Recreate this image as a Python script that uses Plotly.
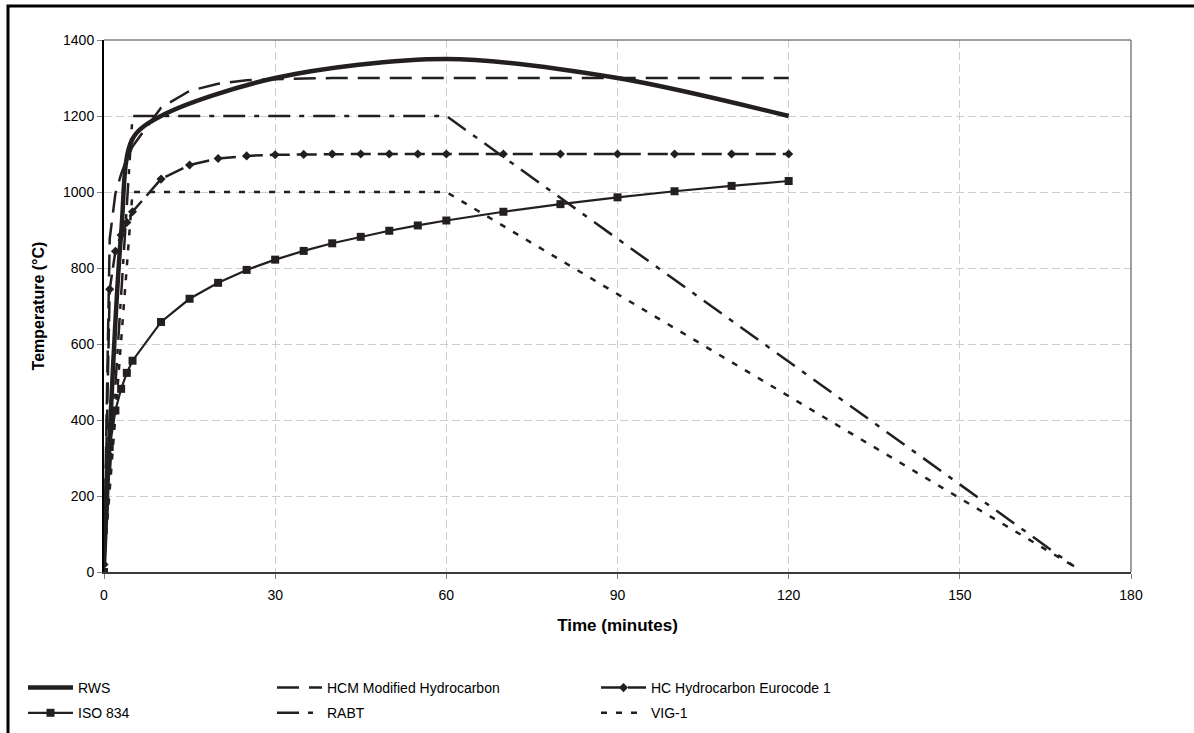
import plotly.graph_objects as go

# ---- data ----
rws_t = [0, 3, 5, 10, 30, 60, 90, 120]
rws_T = [20, 890, 1140, 1200, 1300, 1350, 1300, 1200]

hcm_t = [0, 1, 2, 3, 4, 5, 10, 15, 20, 25, 30, 35, 40, 45, 50, 55, 60, 70, 80, 90, 100, 110, 120]
hcm_T = [20, 877, 996, 1047, 1087, 1120, 1222, 1266, 1285, 1294, 1297, 1299, 1300, 1300, 1300, 1300,
         1300, 1300, 1300, 1300, 1300, 1300, 1300]

hc_t = [0, 1, 2, 3, 4, 5, 10, 15, 20, 25, 30, 35, 40, 45, 50, 55, 60, 70, 80, 90, 100, 110, 120]
hc_T = [20, 744, 844, 887, 920, 948, 1034, 1071, 1088, 1095, 1098, 1099, 1100, 1100, 1100, 1100,
        1100, 1100, 1100, 1100, 1100, 1100, 1100]

iso_t = [0, 1, 2, 3, 4, 5, 10, 15, 20, 25, 30, 35, 40, 45, 50, 55, 60, 70, 80, 90, 100, 110, 120]
iso_T = [0, 329, 425, 482, 524, 556, 658, 719, 761, 795, 822, 845, 865, 882, 898, 912,
         925, 948, 968, 986, 1002, 1016, 1029]

rabt_t = [0, 5, 60, 170]
rabt_T = [20, 1200, 1200, 15]

vig_t = [0, 5, 60, 170]
vig_T = [20, 1000, 1000, 15]

x_ticks = [0, 30, 60, 90, 120, 150, 180]
y_ticks = [0, 200, 400, 600, 800, 1000, 1200, 1400]

INK = "#231f20"
FONT = "Liberation Sans, Arial, sans-serif"

fig = go.Figure()

fig.add_trace(go.Scatter(x=rws_t, y=rws_T, name="RWS", mode="lines",
                         line=dict(color=INK, width=4.5, shape="spline", smoothing=0.9),
                         legend="legend", legendgroup="a"))
fig.add_trace(go.Scatter(x=iso_t, y=iso_T, name="ISO 834", mode="lines+markers",
                         line=dict(color=INK, width=2.2),
                         marker=dict(symbol="square", size=8, color=INK),
                         legend="legend", legendgroup="b"))
fig.add_trace(go.Scatter(x=hcm_t, y=hcm_T, name="HCM Modified Hydrocarbon", mode="lines",
                         line=dict(color=INK, width=2.5, dash="22px,10px"),
                         legend="legend2", legendgroup="c"))
fig.add_trace(go.Scatter(x=rabt_t, y=rabt_T, name="RABT", mode="lines",
                         line=dict(color=INK, width=2.5, dash="22px,9px,5px,9px"),
                         legend="legend2", legendgroup="d"))
fig.add_trace(go.Scatter(x=hc_t, y=hc_T, name="HC Hydrocarbon Eurocode 1", mode="lines+markers",
                         line=dict(color=INK, width=2.5, dash="20px,7px"),
                         marker=dict(symbol="diamond", size=7, color=INK),
                         legend="legend3", legendgroup="e"))
fig.add_trace(go.Scatter(x=vig_t, y=vig_T, name="VIG-1", mode="lines",
                         line=dict(color=INK, width=2.5, dash="6px,9px"),
                         legend="legend3", legendgroup="f"))

L, R, T, B = 104, 63, 40, 161
W, H = 1194, 733
pw, ph = W - L - R, H - T - B


def px(xp):
    return (xp - L) / pw


def py(yp):
    return (H - B - yp) / ph


leg_common = dict(orientation="v", font=dict(family=FONT, size=14, color="#000"),
                  bgcolor="rgba(0,0,0,0)", borderwidth=0, itemwidth=45,
                  tracegroupgap=4, traceorder="grouped", yanchor="top", xanchor="left",
                  yref="container", y=1 - 672 / H)

fig.update_layout(
    width=W, height=H,
    margin=dict(l=L, r=R, t=T, b=B, pad=0, autoexpand=False),
    paper_bgcolor="white", plot_bgcolor="white",
    font=dict(family=FONT, size=14, color="#000"),
    showlegend=True,
    legend=dict(x=px(23), **leg_common),
    legend2=dict(x=px(272), **leg_common),
    legend3=dict(x=px(596), **leg_common),
    xaxis=dict(range=[0, 180], tickvals=x_ticks, ticktext=[str(v) for v in x_ticks],
               showgrid=True, gridcolor="#cfcfcf", griddash="8px,4px", gridwidth=1,
               zeroline=False, showline=True, linecolor="#3a3a3a", linewidth=1.5,
               ticks="outside", ticklen=5, tickcolor="#808080", ticklabelstandoff=4,
               tickfont=dict(family=FONT, size=14, color="#000"),
               title=dict(text="<b>Time (minutes)</b>", font=dict(family=FONT, size=17, color="#000"),
                          standoff=18)),
    yaxis=dict(range=[0, 1400], tickvals=y_ticks, ticktext=[str(v) for v in y_ticks],
               showgrid=True, gridcolor="#cfcfcf", griddash="8px,4px", gridwidth=1,
               zeroline=False, showline=True, linecolor="#000", linewidth=2,
               ticks="outside", ticklen=5, tickcolor="#808080",
               tickfont=dict(family=FONT, size=14, color="#000"),
               title=dict(text="<b>Temperature (°C)</b>", font=dict(family=FONT, size=16, color="#000"),
                          standoff=14)),
    shapes=[
        dict(type="line", xref="paper", yref="paper", x0=0, x1=1, y0=1, y1=1,
             line=dict(color="#808080", width=1.5)),
        dict(type="line", xref="paper", yref="paper", x0=1, x1=1, y0=0, y1=1,
             line=dict(color="#808080", width=1.5)),
        dict(type="rect", xref="paper", yref="paper", x0=px(8), x1=px(1210), y0=py(750), y1=py(6),
             line=dict(color="#000", width=3), layer="below"),
    ],
)

fig.write_html("out.html")
